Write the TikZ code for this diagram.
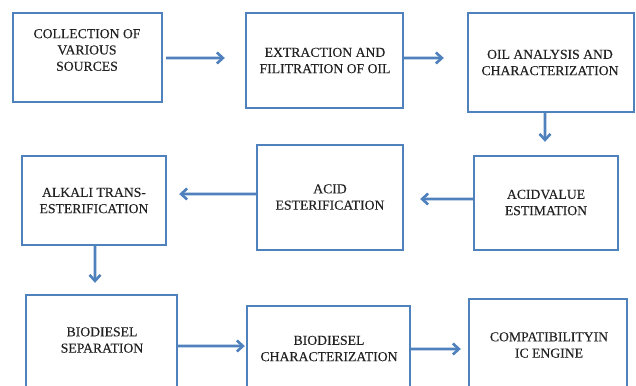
\documentclass[tikz,border=0pt]{standalone}
\usepackage{fontspec}
\setmainfont[FakeBold=0.15]{Liberation Serif}
\usetikzlibrary{arrows.meta}
\definecolor{boxblue}{HTML}{4F81BD}
\definecolor{txt}{HTML}{222222}
\begin{document}
\begin{tikzpicture}[x=1bp,y=-1bp,
  box/.style={draw=boxblue,line width=2.4bp,rectangle,inner sep=0pt},
  lbl/.style={text=txt,align=center,inner sep=0pt,font=\fontsize{13.7bp}{16.3bp}\selectfont},
  arr/.style={draw=boxblue,line width=2.6bp,-{Straight Barb[length=6bp,width=11bp,line width=2.6bp]}}]
\useasboundingbox (0,0) rectangle (636,385);
\clip (0,0) rectangle (636,385);
\fill[white] (0,0) rectangle (636,385);
% boxes
\node[box,minimum width=149bp,minimum height=89bp] (box1) at (87.5,57.5) {};
\node[box,minimum width=157bp,minimum height=95bp] (box2) at (324.5,60.5) {};
\node[box,minimum width=166bp,minimum height=99bp] (box3) at (551,62.5) {};
\node[box,minimum width=144bp,minimum height=94bp] (box4) at (546,203) {};
\node[box,minimum width=146bp,minimum height=105bp] (box5) at (330,197.5) {};
\node[box,minimum width=144bp,minimum height=89bp] (box6) at (94,200.5) {};
\node[box,minimum width=151bp,minimum height=105bp] (box7) at (101.5,347.5) {};
\node[box,minimum width=163bp,minimum height=94bp] (box8) at (328.5,353) {};
\node[box,minimum width=158bp,minimum height=101bp] (box9) at (548,349.5) {};
% texts
\node[lbl] (t1) at (87,50) {COLLECTION OF\\VARIOUS\\SOURCES};
\node[lbl] (t2) at (325,60.5) {EXTRACTION AND\\FILITRATION OF OIL};
\node[lbl] (t3) at (550,62.5) {OIL ANALYSIS AND\\CHARACTERIZATION};
\node[lbl] (t4) at (546,202.5) {ACIDVALUE\\ESTIMATION};
\node[lbl] (t5) at (330,197) {ACID\\ESTERIFICATION};
\node[lbl] (t6) at (94,200.5) {ALKALI TRANS-\\ESTERIFICATION};
\node[lbl] (t7) at (102,340) {BIODIESEL\\SEPARATION};
\node[lbl] (t8) at (329,348.5) {BIODIESEL\\CHARACTERIZATION};
\node[lbl] (t9) at (549,345) {COMPATIBILITYIN\\IC ENGINE};
% connectors
\draw[arr,shorten <=3bp,shorten >=20bp] ([yshift=-0.5bp]box1.east) -- ([yshift=2.5bp]box2.west);
\draw[arr,shorten >=23bp] ([yshift=2.5bp]box2.east) -- ([yshift=4.5bp]box3.west);
\draw[arr,shorten >=13bp] ([xshift=-6bp]box3.south) -- ([xshift=-1bp]box4.north);
\draw[arr,shorten >=16bp] ([yshift=4bp]box4.west) -- ([yshift=-1.5bp]box5.east);
\draw[arr,shorten >=12bp] ([yshift=3.5bp]box5.west) -- ([yshift=6.5bp]box6.east);
\draw[arr,shorten >=11bp] ([xshift=1bp]box6.south) -- ([xshift=-6.5bp]box7.north);
\draw[arr,shorten >=1bp] ([yshift=1.5bp]box7.east) -- ([yshift=7bp]box8.west);
\draw[arr,shorten >=7bp] ([yshift=4bp]box8.east) -- ([yshift=0.5bp]box9.west);
\end{tikzpicture}
\end{document}
